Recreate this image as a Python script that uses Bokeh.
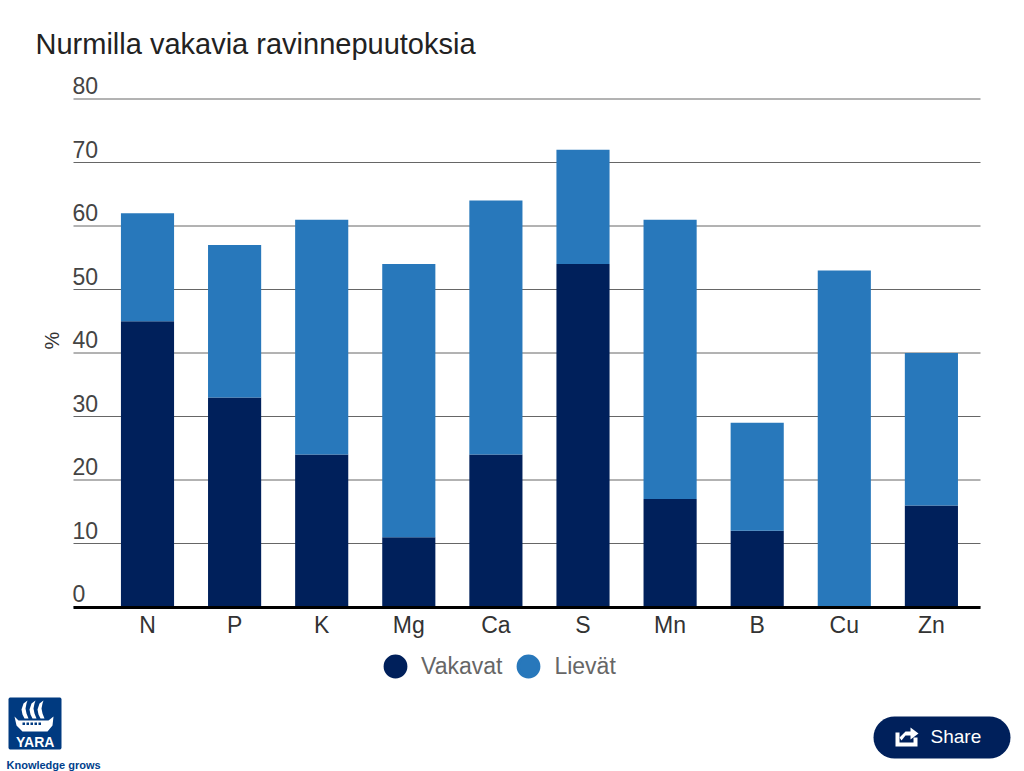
import numpy as np
from bokeh.plotting import figure
from bokeh.embed import file_html
from bokeh.resources import INLINE
from bokeh.core.properties import value
from bokeh.models import (ColumnDataSource, Range1d, FixedTicker, LabelSet, Label, Legend, LegendItem,
                          PolyAnnotation)

# data
categories = ["N", "P", "K", "Mg", "Ca", "S", "Mn", "B", "Cu", "Zn"]
vakavat = [45, 33, 24, 11, 24, 54, 17, 12, 0, 16]
lievat = [17, 24, 37, 43, 40, 18, 44, 17, 53, 24]
y_ticks = [0, 10, 20, 30, 40, 50, 60, 70, 80]
title_text = "Nurmilla vakavia ravinnepuutoksia"
series_names = ["Vakavat", "Lievät"]

DARK = "#00205b"
LIGHT = "#2878bb"
LOGO = "#003a80"
FONT = "Liberation Sans"

W, H = 1024, 771
FRAME_TOP = 60
# plot geometry in page pixels: the frame spans the page below the title so that
# the labels, legend and badges all lie inside it
X0, STEP = 147.0, 87.1
Y0, PER = 606.5, 6.35
AX_L = (73 - X0) / STEP
AX_R = (980 - X0) / STEP

x = list(range(len(categories)))
src = ColumnDataSource(dict(x=x, v=vakavat, l=lievat, t=[a + b for a, b in zip(vakavat, lievat)]))

p = figure(width=W, height=H, output_backend="svg", toolbar_location=None,
           frame_width=W, frame_height=H - FRAME_TOP,
           x_range=Range1d(-X0 / STEP, (W - X0) / STEP),
           y_range=Range1d((Y0 - H) / PER, (Y0 - FRAME_TOP) / PER),
           min_border_left=0, min_border_top=FRAME_TOP, min_border_right=0, min_border_bottom=0,
           outline_line_color=None, background_fill_color="white", border_fill_color="white")

p.title.text = title_text
p.title.text_font = FONT
p.title.text_font_size = "29px"
p.title.text_font_style = "normal"
p.title.text_color = "#222222"
p.title.offset = 35
p.title.standoff = 1

p.vbar(x="x", width=0.61, bottom=0, top="v", source=src, color=DARK, line_color=None)
p.vbar(x="x", width=0.61, bottom="v", top="t", source=src, color=LIGHT, line_color=None)

# axes
p.xgrid.visible = False
p.ygrid.visible = False
grid_src = ColumnDataSource(dict(x0=[AX_L] * len(y_ticks), x1=[AX_R] * len(y_ticks), y=y_ticks))
p.segment(x0="x0", x1="x1", y0="y", y1="y", source=grid_src, line_color="#666666", line_width=1,
          level="underlay")

ax = p.xaxis[0]
ax.fixed_location = 0
ax.bounds = (AX_L, AX_R)
ax.ticker = FixedTicker(ticks=x)
ax.major_label_overrides = {i: c for i, c in zip(x, categories)}
ax.major_tick_line_color = None
ax.minor_tick_line_color = None
ax.axis_line_color = "#000000"
ax.axis_line_width = 3
ax.major_label_text_font = FONT
ax.major_label_text_font_size = "23px"
ax.major_label_text_color = "#333333"
ax.major_label_standoff = -1

ay = p.yaxis[0]
ay.fixed_location = AX_L
ay.bounds = (0, 84)
ay.ticker = FixedTicker(ticks=[])
ay.axis_line_color = None
ay.major_tick_line_color = None
ay.minor_tick_line_color = None
ay.axis_label = "%"
ay.axis_label_text_font = FONT
ay.axis_label_text_font_size = "20px"
ay.axis_label_text_font_style = "normal"
ay.axis_label_text_color = "#333333"
ay.axis_label_standoff = 11

# y tick labels sit above their grid lines
tick_src = ColumnDataSource(dict(x=[AX_L] * len(y_ticks), y=y_ticks, t=[str(v) for v in y_ticks]))
p.add_layout(LabelSet(x="x", y="y", text="t", source=tick_src, x_offset=-1, y_offset=5, text_baseline="bottom",
                      text_font=value(FONT), text_font_size=value("23px"), text_color="#444444"))

# legend
r1 = p.scatter(x=[float("nan")], y=[float("nan")], marker="circle", size=24, color=DARK, line_width=3)
r2 = p.scatter(x=[float("nan")], y=[float("nan")], marker="circle", size=24, color=LIGHT, line_width=3)
leg = Legend(items=[LegendItem(label=series_names[0], renderers=[r1]),
                    LegendItem(label=series_names[1], renderers=[r2])],
             orientation="horizontal", location=(369, H - 666 - 26), border_line_color=None,
             background_fill_alpha=0, glyph_width=52, glyph_height=52, label_text_font=FONT,
             label_text_font_size="23px", label_text_color="#666666", spacing=0, padding=0, margin=0,
             label_standoff=0)
p.add_layout(leg)

# decorations in page pixels
def poly(xs, ys, color):
    p.add_layout(PolyAnnotation(xs=xs, ys=ys, xs_units="canvas", ys_units="canvas", fill_color=color,
                                fill_alpha=1, line_color=None))

def rrect(x0, y0, x1, y1, r):
    t = np.linspace(0, np.pi / 2, 10)
    xs = list(x1 - r + r * np.sin(t)) + list(x1 - r + r * np.cos(t)) + list(x0 + r - r * np.sin(t)) + list(x0 + r - r * np.cos(t))
    ys = list(y0 + r - r * np.cos(t)) + list(y1 - r + r * np.sin(t)) + list(y1 - r + r * np.cos(t)) + list(y0 + r - r * np.sin(t))
    return [float(a) for a in xs], [float(b) for b in ys]

def label(px, py, text, size, color, style="normal", baseline="middle"):
    p.add_layout(Label(x=px, y=py, x_units="canvas", y_units="canvas", text=text, text_font=FONT,
                       text_font_size=size, text_color=color, text_font_style=style, text_baseline=baseline))

# logo
poly(*rrect(8, 697, 61, 749, 2), LOGO)
for sx in (22, 30, 38):
    poly([sx + 5, sx + 1, sx - 1, sx, sx + 2, sx + 6, sx + 4, sx + 3, sx + 4],
         [700, 703, 709, 714, 718, 718, 713, 708, 703], "white")
poly([14, 18, 48, 53, 52, 47, 22, 16], [716, 720, 720, 716, 725, 731, 731, 725], "white")
for dx in (22, 26, 30, 34, 38):
    poly([dx, dx + 2.5, dx + 2.5, dx], [722, 722, 724.5, 724.5], LOGO)
label(15.5, 741, "YARA", "14px", "white", "bold")
label(6, 770, "Knowledge grows", "11px", "#00408b", "bold", "bottom")

# share button
poly(*rrect(873, 716, 1010, 758, 21), DARK)
poly([895, 899, 899, 913, 913, 917, 917, 895], [732, 732, 742, 742, 737, 737, 746, 746], "white")
poly([899, 905, 910, 910, 918, 910, 910, 905, 901], [737, 731, 731, 727, 733, 739, 735, 735, 740], "white")
label(930, 736, "Share", "19px", "white")

open("out.html", "w").write(file_html(p, INLINE))
